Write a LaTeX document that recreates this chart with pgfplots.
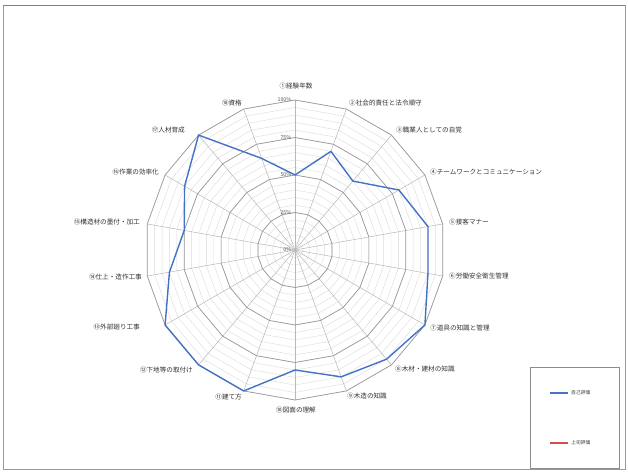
\documentclass[border=0pt]{standalone}
\usepackage{pgfplots}
\pgfplotsset{compat=1.18}
\usepackage{pgfplotstable}
\usepackage{fontspec}
\setmainfont{Noto Sans CJK JP}
\definecolor{excelblue}{RGB}{68,114,196}
\definecolor{excelred}{RGB}{205,80,80}
\pgfplotstableread{
a v
0 50
20 70
40 60
60 80
80 90
100 90
120 100
140 95
160 90
180 80
200 100
220 100
240 100
260 85
280 75
300 85
320 100
340 65
360 50
}\selfdata
\begin{document}
\begin{tikzpicture}[x=1pt,y=1pt]
\useasboundingbox (0,0) rectangle (628,471);
\fill[white] (0,0) rectangle (628,471);
\draw[black!40] (3,2) rectangle (625,466);
\draw[black!50, line width=0.8pt] (3,466) -- (625,466);
\begin{scope}[shift={(295,221)}]
% minor rings
\foreach \r in {5,10,...,100}{
  \draw[black!14, line width=0.4pt] (90:{1.5*\r}) \foreach \a in {20,40,...,340}{ -- (90-\a:{1.5*\r}) } -- cycle;
}
% spokes
\foreach \a in {0,20,...,340}{
  \draw[black!28, line width=0.5pt] (0,0) -- (90-\a:150);
}
% major rings
\foreach \r in {25,50,75,100}{
  \draw[black!40, line width=0.7pt] (90:{1.5*\r}) \foreach \a in {20,40,...,340}{ -- (90-\a:{1.5*\r}) } -- cycle;
}
% radial tick labels
\foreach \r/\t in {0/0\%,25/25\%,50/50\%,75/75\%,100/100\%}{
  \node[anchor=east, inner sep=0.5pt, font=\fontsize{5.3}{6}\selectfont, text=black!65] at (-3,{1.5*\r}) {\t};
}
\end{scope}
% category labels
\begin{scope}[every node/.style={inner sep=0pt, font=\fontsize{6.6}{7}\selectfont, text=black!80}]
\node[anchor=center] at (296,385) {①経験年数};
\node[anchor=west] at (349,368) {②社会的責任と法令順守};
\node[anchor=west] at (396,341) {③職業人としての自覚};
\node[anchor=west] at (430,299) {④チームワークとコミュニケーション};
\node[anchor=west] at (449,249) {⑤接客マナー};
\node[anchor=west] at (449,195) {⑥労働安全衛生管理};
\node[anchor=west] at (430,143) {⑦道具の知識と管理};
\node[anchor=west] at (395,102) {⑧木材・建材の知識};
\node[anchor=west] at (347,75) {⑨木造の知識};
\node[anchor=center] at (296,61) {⑩図面の理解};
\node[anchor=east] at (242,74) {⑪建て方};
\node[anchor=east] at (193,101) {⑫下地等の取付け};
\node[anchor=east] at (140,144) {⑬外部廻り工事};
\node[anchor=east] at (142,194) {⑭仕上・造作工事};
\node[anchor=east] at (140,249) {⑮構造材の墨付・加工};
\node[anchor=east] at (159,299) {⑯作業の効率化};
\node[anchor=east] at (185,341) {⑰人材育成};
\node[anchor=east] at (242,368) {⑱資格};
\end{scope}
\begin{axis}[at={(145pt,71pt)}, anchor=south west, width=300pt, height=300pt,
  scale only axis, hide axis, xmin=-100, xmax=100, ymin=-100, ymax=100, clip=false]
\addplot[excelblue, line width=1.4pt, line join=round, no marks, data cs=polar]
  table[x expr={90-\thisrow{a}}, y=v] {\selfdata};
\end{axis}
% legend
\draw[black!45, line width=0.5pt] (530,3) rectangle (619,104);
\draw[excelblue, line width=1.2pt] (550,78) -- (568,78);
\node[anchor=west, inner sep=0pt, font=\fontsize{4.8}{5}\selectfont, text=black!80] at (571,78) {自己評価};
\draw[excelred, line width=1.2pt] (550,28) -- (568,28);
\node[anchor=west, inner sep=0pt, font=\fontsize{4.8}{5}\selectfont, text=black!80] at (571,28) {上司評価};
\end{tikzpicture}
\end{document}
